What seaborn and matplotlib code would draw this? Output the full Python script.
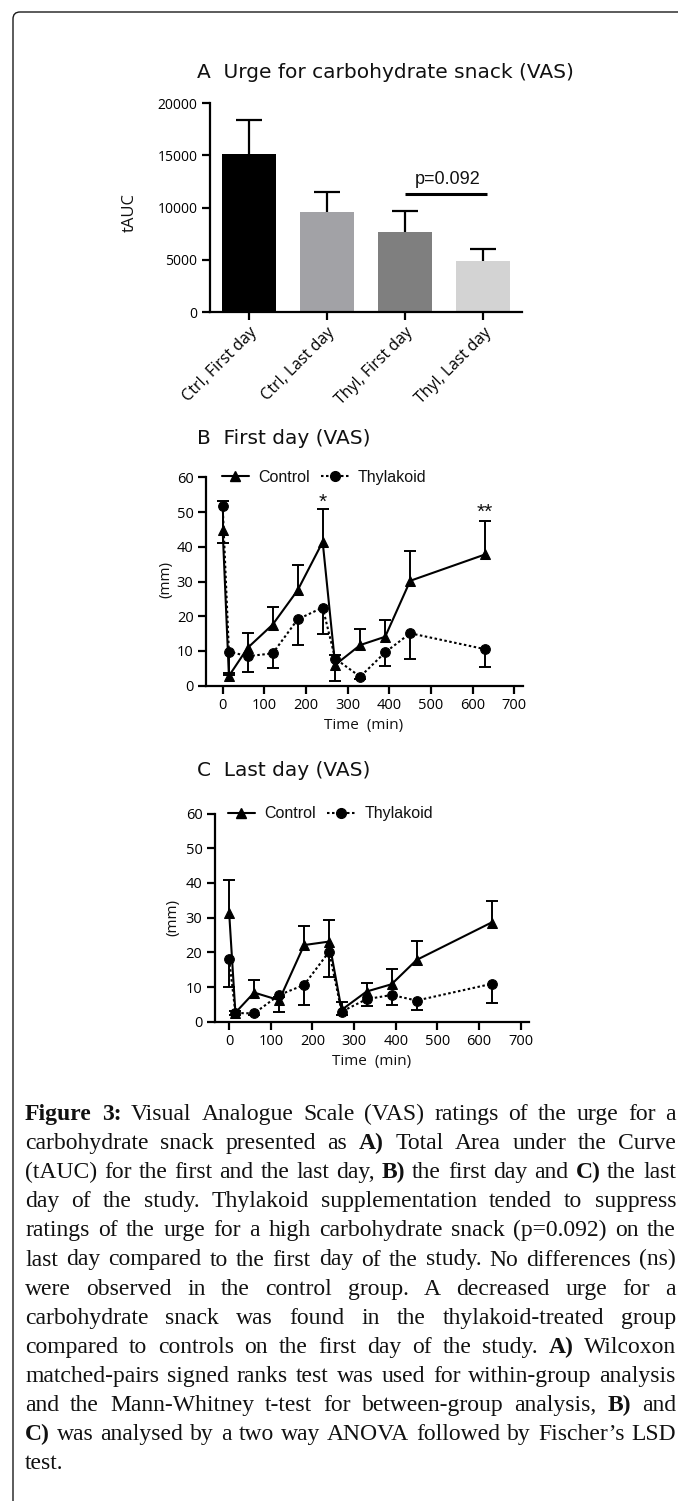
import numpy as np
import pandas as pd
import matplotlib
matplotlib.use("Agg")
import matplotlib.pyplot as plt
from matplotlib.lines import Line2D
from matplotlib.patches import FancyBboxPatch
from matplotlib.transforms import IdentityTransform
import seaborn as sns

W, H = 678, 1501

# panel A - tAUC of the urge ratings
bar_labels = ["Ctrl, First day", "Ctrl, Last day", "Thyl, First day", "Thyl, Last day"]
bar_tauc = [15100, 9570, 7690, 4910]
bar_tauc_top = [18370, 11510, 9700, 6000]
bar_colors = ["#000000", "#a2a2a6", "#7f7f7f", "#d3d3d3"]

# panels B and C - VAS (mm) over time
time_min = [0, 15, 60, 120, 180, 240, 270, 330, 390, 450, 630]

first_ctrl = [44.8, 2.8, 10.9, 17.6, 27.5, 41.4, 6.0, 11.7, 14.1, 30.2, 37.8]
first_ctrl_top = [53.2, 3.8, 15.1, 22.7, 34.8, 50.8, 8.8, 16.2, 18.9, 38.7, 47.5]
first_thyl = [51.8, 9.8, 8.5, 9.3, 19.1, 22.5, 7.8, 2.6, 9.6, 15.1, 10.5]
first_thyl_low = [41.0, 3.0, 4.0, 5.1, 11.7, 14.8, 1.3, 2.0, 5.8, 7.8, 5.5]

last_ctrl = [31.4, 2.6, 8.4, 6.2, 22.1, 23.1, 3.4, 8.7, 10.8, 17.8, 28.6]
last_ctrl_top = [40.9, 3.2, 12.0, 7.0, 27.6, 29.3, 5.8, 11.3, 15.1, 23.4, 34.8]
last_thyl = [18.0, 2.5, 2.4, 7.7, 10.6, 20.2, 2.9, 6.5, 7.7, 6.1, 10.9]
last_thyl_low = [10.1, 1.8, 1.8, 2.8, 4.8, 12.8, 2.0, 4.5, 4.8, 3.4, 5.4]

# significance marks on the first day
star_times = [240, 630]
star_y = [52.8, 49.8]
star_text = ["*", "**"]

caption_lines = [
    "**Figure** **3:** Visual Analogue Scale (VAS) ratings of the urge for a",
    "carbohydrate snack presented as **A)** Total Area under the Curve",
    "(tAUC) for the first and the last day, **B)** the first day and **C)** the last",
    "day of the study. Thylakoid supplementation tended to suppress",
    "ratings of the urge for a high carbohydrate snack (p=0.092) on the",
    "last day compared to the first day of the study. No differences (ns)",
    "were observed in the control group. A decreased urge for a",
    "carbohydrate snack was found in the thylakoid-treated group",
    "compared to controls on the first day of the study. **A)** Wilcoxon",
    "matched-pairs signed ranks test was used for within-group analysis",
    "and the Mann-Whitney t-test for between-group analysis, **B)** and",
    "**C)** was analysed by a two way ANOVA followed by Fischer’s LSD",
    "test.",
]

sns.set_style("ticks")
plt.rcParams["font.family"] = ["Open Sans", "DejaVu Sans"]
plt.rcParams["axes.linewidth"] = 1.6
plt.rcParams["axes.edgecolor"] = "black"
plt.rcParams["xtick.color"] = "black"
plt.rcParams["ytick.color"] = "black"
plt.rcParams["text.color"] = "#111111"

arial = ["Liberation Sans", "DejaVu Sans"]
serif = ["Liberation Serif", "DejaVu Serif"]
wide = ["DejaVu Sans"]

fig = plt.figure(figsize=(W / 100, H / 100), dpi=100)
fig.patch.set_facecolor("white")


def px_box(l, t, r, b):
    return [l / W, 1 - b / H, (r - l) / W, (b - t) / H]


def px_text(x, y, s, **kw):
    return fig.text(x / W, 1 - y / H, s, **kw)


# frame around the figure (only left and top edges visible)
frame = FancyBboxPatch((13, -40), 760, H - 12 + 40, boxstyle="round,pad=0,rounding_size=7",
                       transform=IdentityTransform(), fill=False, ec="#1a1a1a", lw=1.0)
fig.add_artist(frame)

# ---------------- panel A ----------------
axA = fig.add_axes(px_box(210, 103, 522, 312))
sns.barplot(x=bar_labels, y=bar_tauc, hue=bar_labels, palette=bar_colors, saturation=1,
            width=0.69, linewidth=0, legend=False, ax=axA)
xpos = np.arange(len(bar_labels))
eb = axA.errorbar(xpos, bar_tauc, yerr=[np.zeros(len(xpos)), np.subtract(bar_tauc_top, bar_tauc)],
                  fmt="none", ecolor="black", elinewidth=1.6, capsize=9.5, capthick=1.6, zorder=3)
eb[1][0].set_visible(False)
axA.plot([2, 3.05], [11300, 11300], color="black", lw=2.2, solid_capstyle="butt")
axA.text(2.55, 11900, "p=0.092", ha="center", va="bottom", fontsize=13, family=arial)
axA.set_xlim(-0.5, 3.5)
axA.set_ylim(0, 20000)
axA.set_yticks(range(0, 20001, 5000))
axA.set_xticks(xpos)
axA.set_xticklabels(bar_labels, rotation=45, ha="right", rotation_mode="anchor", fontsize=11.5)
axA.set_xlabel("")
axA.set_ylabel("")
axA.tick_params(width=1.6, length=6)
axA.tick_params(axis="y", labelsize=10, pad=3)
axA.tick_params(axis="x", pad=3)
sns.despine(ax=axA)
px_text(197, 72, "A  Urge for carbohydrate snack (VAS)", ha="left", va="center", fontsize=14.5,
        family=wide)
px_text(130, 213, "tAUC", rotation=90, ha="center", va="center", fontsize=12)


# ---------------- panels B and C ----------------
def time_panel(box, x_left, ctrl, ctrl_top, thyl, thyl_low, leg_x):
    ax = fig.add_axes(px_box(*box))
    n = len(time_min)
    df = pd.DataFrame({
        "time": time_min * 2,
        "value": list(ctrl) + list(thyl),
        "group": ["Control"] * n + ["Thylakoid"] * n,
    })
    sns.lineplot(data=df, x="time", y="value", hue="group", style="group",
                 palette={"Control": "black", "Thylakoid": "black"},
                 markers={"Control": "^", "Thylakoid": "o"},
                 dashes={"Control": "", "Thylakoid": (1.2, 1.2)},
                 markersize=7, markeredgecolor="black", linewidth=1.5,
                 legend=False, sort=False, ax=ax)
    up = np.subtract(ctrl_top, ctrl)
    eb = ax.errorbar(time_min, ctrl, yerr=[np.zeros(n), up], fmt="none", ecolor="black",
                     elinewidth=1.4, capsize=4, capthick=1.4)
    eb[1][0].set_visible(False)
    dn = np.subtract(thyl, thyl_low)
    eb = ax.errorbar(time_min, thyl, yerr=[dn, np.zeros(n)], fmt="none", ecolor="black",
                     elinewidth=1.4, capsize=4, capthick=1.4)
    eb[1][1].set_visible(False)

    handles = [
        Line2D([], [], color="black", lw=1.5, marker="^", ms=7),
        Line2D([], [], color="black", lw=1.5, ls=(0, (1.2, 1.2)), marker="o", ms=7),
    ]
    ax.legend(handles, ["Control", "Thylakoid"], loc="center left", bbox_to_anchor=(leg_x, 1.0),
              ncol=2, frameon=False, handlelength=1.7, handletextpad=0.6, columnspacing=0.7,
              borderaxespad=0, borderpad=0, prop={"family": arial, "size": 11.5})

    ax.set_xlim(x_left, 720)
    ax.set_ylim(0, 60)
    ax.set_xticks(range(0, 701, 100))
    ax.set_yticks(range(0, 61, 10))
    ax.set_xlabel("")
    ax.set_ylabel("")
    ax.tick_params(width=1.6, length=6, labelsize=10.5, pad=3)
    sns.despine(ax=ax)
    return ax


axB = time_panel((206, 477.3, 522.7, 685.7), -40, first_ctrl, first_ctrl_top,
                 first_thyl, first_thyl_low, 0.05)
for t, y, s in zip(star_times, star_y, star_text):
    axB.text(t, y, s, ha="center", va="center", fontsize=15, family=arial)
px_text(197, 439, "B  First day (VAS)", ha="left", va="center", fontsize=14.5, family=wide)
px_text(364, 725, "Time  (min)", ha="center", va="center", fontsize=11)
px_text(166, 580, "(mm)", rotation=90, ha="center", va="center", fontsize=11)

axC = time_panel((215, 813.6, 529, 1021.7), -34, last_ctrl, last_ctrl_top,
                 last_thyl, last_thyl_low, 0.041)
px_text(197, 770, "C  Last day (VAS)", ha="left", va="center", fontsize=14.5, family=wide)
px_text(372, 1062, "Time  (min)", ha="center", va="center", fontsize=11)
px_text(173, 918, "(mm)", rotation=90, ha="center", va="center", fontsize=11)

# ---------------- caption, justified ----------------
renderer = fig.canvas.get_renderer()


def word_width(word, bold, size):
    t = fig.text(0, 0, word, fontsize=size, family=serif, fontweight="bold" if bold else "normal")
    w = t.get_window_extent(renderer).width
    t.remove()
    return w


cap_left, cap_right = 25, 676
cap_width = cap_right - cap_left
size = 17.0
parsed = []
for line in caption_lines:
    toks = line.split(" ")
    parsed.append([(tok.strip("*"), tok.startswith("**")) for tok in toks])

space = word_width("a a", False, size) - word_width("aa", False, size)
natural = []
for words in parsed:
    ws = [word_width(w, b, size) for w, b in words]
    natural.append(sum(ws) + space * (len(ws) - 1))
widest = max(natural[:-1])
if widest > cap_width * 0.99:
    size = size * cap_width * 0.99 / widest
space = word_width("a a", False, size) - word_width("aa", False, size)

for i, words in enumerate(parsed):
    ws = [word_width(w, b, size) for w, b in words]
    last = i == len(parsed) - 1
    gap = space if last or len(ws) < 2 else (cap_width - sum(ws)) / (len(ws) - 1)
    x = cap_left
    y = 1120 + i * 29.1
    for (w, b), wd in zip(words, ws):
        px_text(x, y, w, ha="left", va="baseline", fontsize=size, family=serif,
                fontweight="bold" if b else "normal", color="#111111")
        x += wd + gap

fig.savefig("out.png", dpi=100, facecolor="white")
